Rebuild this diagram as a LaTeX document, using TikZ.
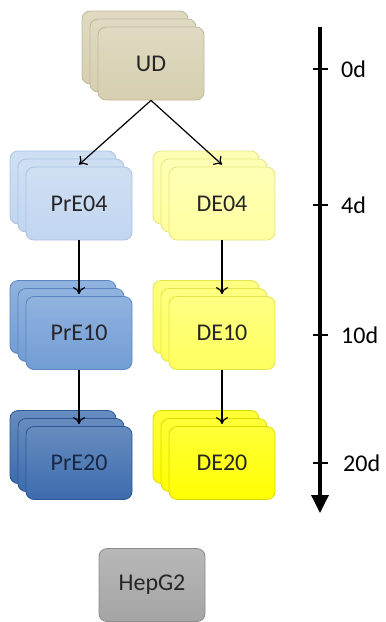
\documentclass[tikz,border=0pt]{standalone}
\usepackage{fontspec}
\setmainfont{Carlito}
\usetikzlibrary{arrows.meta,shadows}

\definecolor{udfill}{RGB}{214,207,176}
\definecolor{uddraw}{RGB}{192,184,152}
\definecolor{pre04fill}{RGB}{194,214,240}
\definecolor{pre04draw}{RGB}{170,194,226}
\definecolor{pre10fill}{RGB}{114,157,213}
\definecolor{pre10draw}{RGB}{92,134,192}
\definecolor{pre20fill}{RGB}{60,108,174}
\definecolor{pre20draw}{RGB}{46,88,148}
\definecolor{de04fill}{RGB}{255,255,160}
\definecolor{de04draw}{RGB}{228,228,130}
\definecolor{de10fill}{RGB}{255,255,95}
\definecolor{de10draw}{RGB}{228,228,70}
\definecolor{de20fill}{RGB}{255,255,0}
\definecolor{de20draw}{RGB}{218,218,0}
\definecolor{hepfill}{RGB}{164,164,164}
\definecolor{hepdraw}{RGB}{140,140,140}

\tikzset{
  card/.style 2 args={rounded corners=8pt,minimum width=106pt,minimum height=73pt,
    font=\fontsize{24}{28}\selectfont,text=black!85,line width=0.8pt,
    draw=#2,top color=#1!78!white,bottom color=#1},
  stack/.style 2 args={card={#1}{#2},
    general shadow={shadow xshift=-16pt,shadow yshift=16pt,draw=#2,top color=#1!78!white,bottom color=#1},
    general shadow={shadow xshift=-8pt,shadow yshift=8pt,draw=#2,top color=#1!78!white,bottom color=#1}},
  flow/.style={line width=1.2pt,-{To[length=7pt,width=12pt]}},
  tick/.style={line width=2pt},
  day/.style={anchor=west,inner sep=0pt,font=\fontsize{24}{28}\selectfont}
}

\begin{document}
\begin{tikzpicture}[x=1pt,y=-1pt]
  \useasboundingbox (0,0) rectangle (386,622);

  \node[stack={udfill}{uddraw}] (ud) at (151,63.5) {UD};
  \node[stack={pre04fill}{pre04draw}] (pre04) at (79,203.5) {PrE04};
  \node[stack={de04fill}{de04draw}] (de04) at (222,203.5) {DE04};
  \node[stack={pre10fill}{pre10draw}] (pre10) at (79,333) {PrE10};
  \node[stack={de10fill}{de10draw}] (de10) at (222,333) {DE10};
  \node[stack={pre20fill}{pre20draw},text={rgb,255:red,25;green,40;blue,70}] (pre20) at (79,463) {PrE20};
  \node[stack={de20fill}{de20draw}] (de20) at (222,463) {DE20};
  \node[card={hepfill}{hepdraw}] (hepg2) at (152,585) {HepG2};

  \draw[flow] (ud.south) -- ([yshift=2pt]pre04.north);
  \draw[flow] (ud.south) -- ([yshift=2pt]de04.north);
  \draw[flow] (pre04.south) -- ([yshift=2pt]pre10.north);
  \draw[flow] (de04.south) -- ([yshift=2pt]de10.north);
  \draw[flow] (pre10.south) -- ([yshift=2pt]pre20.north);
  \draw[flow] (de10.south) -- ([yshift=2pt]de20.north);

  % time axis
  \coordinate (tstart) at (320,27);
  \coordinate (tend) at (320,513);
  \draw[line width=3.5pt,-{Triangle[width=17pt,length=18pt]}] (tstart) -- (tend);
  \draw[tick] (313,69) -- (328,69);
  \draw[tick] (313,205) -- (328,205);
  \draw[tick] (313,335) -- (328,335);
  \draw[tick] (313,463) -- (328,463);
  \node[day] (d0) at (341,69) {0d};
  \node[day] (d4) at (341,205) {4d};
  \node[day] (d10) at (341,335) {10d};
  \node[day] (d20) at (343,463) {20d};
\end{tikzpicture}
\end{document}
